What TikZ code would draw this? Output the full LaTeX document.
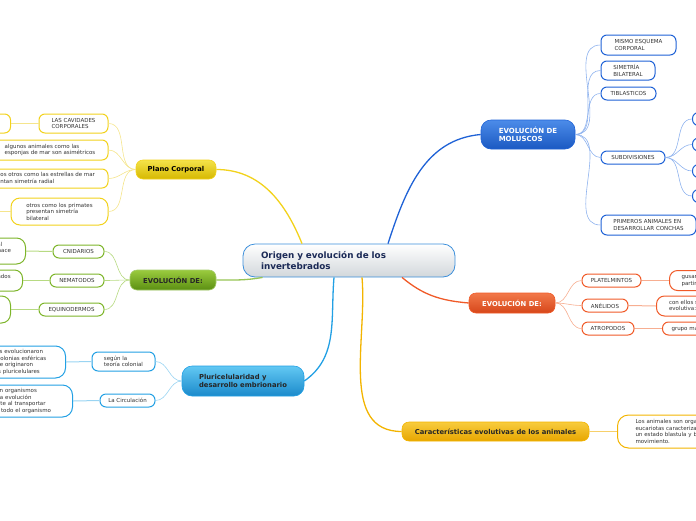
\documentclass[tikz,border=0pt]{standalone}
\usepackage{fontspec}
\setmainfont{DejaVu Sans}
\usetikzlibrary{positioning}

\definecolor{rootline}{HTML}{3C8FDB}
\definecolor{roottext}{HTML}{1B2A56}
\definecolor{rootlow}{HTML}{D2D7DB}
\definecolor{yelline}{HTML}{F2D21C}
\definecolor{yeltop}{HTML}{F4E34A}
\definecolor{yelbot}{HTML}{D6B800}
\definecolor{yeltwig}{HTML}{F5E58C}
\definecolor{grnline}{HTML}{7DB52A}
\definecolor{grntop}{HTML}{9ACB3E}
\definecolor{grnbot}{HTML}{5B8F12}
\definecolor{grntwig}{HTML}{B7DA82}
\definecolor{cyaline}{HTML}{22A0E4}
\definecolor{cyatop}{HTML}{62C8F3}
\definecolor{cyabot}{HTML}{1B8ACB}
\definecolor{cyatwig}{HTML}{9AD4F2}
\definecolor{bluline}{HTML}{1F62D6}
\definecolor{blutop}{HTML}{4C8CE9}
\definecolor{blubot}{HTML}{1B59C2}
\definecolor{blutwig}{HTML}{8EB2EE}
\definecolor{oraline}{HTML}{F05A28}
\definecolor{oratop}{HTML}{F2794A}
\definecolor{orabot}{HTML}{D6461A}
\definecolor{oratwig}{HTML}{F7AE91}
\definecolor{ambline}{HTML}{F3B400}
\definecolor{ambtop}{HTML}{F8CC3E}
\definecolor{ambbot}{HTML}{E7A600}
\definecolor{ambtwig}{HTML}{F7D06A}

\begin{document}
\begin{tikzpicture}[
    x=1pt, y=1pt,
    root/.style={draw=rootline, line width=0.8pt, rounded corners=12pt, top color=white, bottom color=rootlow,
        text=roottext, font=\fontsize{8.8}{10.5}\selectfont\bfseries, align=left, inner sep=0pt},
    topic/.style={rounded corners=7pt, line width=0.6pt, font=\fontsize{6.8}{8.3}\selectfont\bfseries,
        align=left, inner sep=0pt},
    leaf/.style={draw, fill=white, rounded corners=6pt, line width=1pt, text=black!80,
        font=\fontsize{5.5}{6.5}\selectfont, align=left, inner sep=0pt},
    branch/.style={line width=1.3pt},
    twig/.style={line width=0.6pt},
    link/.style={line width=1pt}
]
    \useasboundingbox (0,0) rectangle (696,-520);
    \clip (0,0) rectangle (696,-520);

    % centre
    \node[root, minimum width=212pt, minimum height=33pt, text width=176pt] (c) at (349,-260.5)
        {Origen y evolución de los\\invertebrados};

    % main topics
    \node[topic, draw=yelline, top color=yeltop, bottom color=yelbot, minimum width=80pt, minimum height=19pt] (plano) at (176,-169.5) {Plano Corporal};
    \node[topic, draw=grnline!70, top color=grntop, bottom color=grnbot, text=black!85, minimum width=86pt, minimum height=20pt] (evoA) at (173,-280) {EVOLUCIÓN DE:};
    \node[topic, draw=cyaline, top color=cyatop, bottom color=cyabot, text=black!85, rounded corners=10pt, minimum width=122pt, minimum height=30pt] (pluri) at (243,-381) {Pluricelularidad y\\desarrollo embrionario};
    \node[topic, draw=bluline, top color=blutop, bottom color=blubot, text=white, rounded corners=10pt, font=\fontsize{7}{8.3}\selectfont\bfseries, minimum width=94pt, minimum height=29pt] (mol) at (528,-134.5) {EVOLUCIÓN DE\\MOLUSCOS};
    \node[topic, draw=oraline, top color=oratop, bottom color=orabot, text=white, minimum width=86pt, minimum height=20pt] (evoB) at (512,-303) {EVOLUCIÓN DE:};
    \node[topic, draw=ambline, top color=ambtop, bottom color=ambbot, text=black!85, minimum width=187pt, minimum height=19pt] (carac) at (495.5,-431.5) {Características evolutivas de los animales};

    % Plano Corporal
    \node[leaf, draw=yelline, minimum width=69pt, minimum height=19pt] (cav) at (73.5,-123.5) {LAS CAVIDADES\\CORPORALES};
    \node[leaf, draw=yelline, anchor=east, minimum width=42pt, minimum height=19pt] (cavx) at (11,-123.5) {};
    \node[leaf, draw=yelline, minimum width=116pt, minimum height=20pt] (asim) at (50,-150) {algunos animales como las\\esponjas de mar son asimétricos};
    \node[leaf, draw=yelline, minimum width=136pt, minimum height=19pt] (radial) at (40,-178.5) {algunos otros como las estrellas de mar\\presentan simetría radial};
    \node[leaf, draw=yelline, rounded corners=9pt, minimum width=97pt, minimum height=27pt] (prim) at (59.5,-211.5) {otros como los primates\\presentan simetría\\bilateral};
    \coordinate (primx) at (-2,-211.5);

    % EVOLUCION DE (verde)
    \node[leaf, draw=grnline, minimum width=51pt, minimum height=13pt] (cni) at (78.5,-251.5) {CNIDARIOS};
    \node[leaf, draw=grnline, anchor=east, rounded corners=9pt, minimum width=114pt, minimum height=26pt, text width=90pt] (cnix) at (26,-251) {Animales con simetría radial\\con cavidad digestiva que hace\\de boca y ano};
    \node[leaf, draw=grnline, minimum width=54pt, minimum height=13pt] (nem) at (77,-280.5) {NEMATODOS};
    \node[leaf, draw=grnline, anchor=east, rounded corners=8pt, minimum width=66pt, minimum height=21pt, text width=60pt] (nemx) at (23,-280.5) {Gusanos redondos\\parásitos};
    \node[leaf, draw=grnline, minimum width=65pt, minimum height=13pt] (equ) at (71.5,-309.5) {EQUINODERMOS};
    \node[leaf, draw=grnline, anchor=east, rounded corners=9pt, minimum width=40pt, minimum height=27pt] (equx) at (11,-309.5) {};

    % Pluricelularidad
    \node[leaf, draw=cyaline, minimum width=63pt, minimum height=19pt] (teo) at (123.5,-361.5) {según la\\teoría colonial};
    \node[leaf, draw=cyaline, anchor=east, rounded corners=10pt, minimum width=116pt, minimum height=32pt, text width=82pt] (teox) at (66,-362) {Los animales evolucionaron\\a partir de colonias esféricas\\de las que se originaron\\los animales pluricelulares};
    \node[leaf, draw=cyaline, minimum width=55pt, minimum height=13pt] (circ) at (127.5,-400.5) {La Circulación};
    \node[leaf, draw=cyaline, anchor=east, rounded corners=10pt, minimum width=130pt, minimum height=32pt, text width=92pt] (circx) at (73,-401) {Se presenta en organismos\\complejos, una evolución\\muy importante al transportar\\sustancias en todo el organismo};

    % Moluscos
    \node[leaf, draw=bluline, minimum width=75pt, minimum height=20pt] (mis) at (638.5,-45) {MISMO ESQUEMA\\CORPORAL};
    \node[leaf, draw=bluline, minimum width=54pt, minimum height=19pt] (sim) at (628,-70.5) {SIMETRÍA\\BILATERAL};
    \node[leaf, draw=bluline, minimum width=55pt, minimum height=13pt] (tib) at (628.5,-93.5) {TIBLASTICOS};
    \node[leaf, draw=bluline, minimum width=64pt, minimum height=13pt] (sub) at (633,-157.5) {SUBDIVISIONES};
    \node[leaf, draw=bluline, anchor=west, minimum width=40pt, minimum height=13pt] (s1) at (692,-119) {};
    \node[leaf, draw=bluline, anchor=west, minimum width=40pt, minimum height=13pt] (s2) at (692,-144.5) {};
    \node[leaf, draw=bluline, anchor=west, minimum width=40pt, minimum height=13pt] (s3) at (692,-171) {};
    \node[leaf, draw=bluline, anchor=west, minimum width=40pt, minimum height=13pt] (s4) at (692,-196) {};
    \node[leaf, draw=bluline, minimum width=95pt, minimum height=20pt] (pri) at (648.5,-225) {PRIMEROS ANIMALES EN\\DESARROLLAR CONCHAS};

    % EVOLUCION DE (naranja)
    \node[leaf, draw=oraline, minimum width=59pt, minimum height=13pt] (pla) at (611.5,-280.5) {PLATELMINTOS};
    \node[leaf, draw=oraline, anchor=west, rounded corners=8pt, minimum width=104pt, minimum height=20pt, text width=80pt] (plax) at (669,-280.5) {gusanos planos a\\partir de los cuales};
    \node[leaf, draw=oraline, minimum width=46pt, minimum height=13pt] (ane) at (605,-305.5) {ANÉLIDOS};
    \node[leaf, draw=oraline, anchor=west, rounded corners=8pt, minimum width=135pt, minimum height=20pt, text width=110pt] (anex) at (656,-306) {con ellos surge una novedad\\evolutiva: la segmentación};
    \node[leaf, draw=oraline, minimum width=52pt, minimum height=13pt] (atr) at (608,-328.5) {ATROPODOS};
    \node[leaf, draw=oraline, anchor=west, minimum width=98pt, minimum height=13pt, text width=80pt] (atrx) at (662,-328.5) {grupo más numeroso};

    % Caracteristicas
    \node[leaf, draw=ambline, anchor=west, rounded corners=11pt, minimum width=136pt, minimum height=33pt, text width=100pt] (carx) at (617,-431.5) {Los animales son organismos\\eucariotas caracterizados por\\un estado blastula y buen\\movimiento.};

    % main branches
    \draw[branch, yelline] (plano.east) to[out=0, in=112] ([xshift=-47pt]c.north);
    \draw[branch, grnline!80] (evoA.east) to[out=0, in=190] ([xshift=20pt]c.south west);
    \draw[branch, cyaline] ([xshift=-15pt]c.south) to[out=-95, in=35] (pluri.east);
    \draw[branch, bluline] ([xshift=39pt]c.north) to[out=72, in=185] (mol.west);
    \draw[branch, oraline] ([xshift=53pt]c.south) to[out=-40, in=175] (evoB.west);
    \draw[branch, ambline] ([xshift=13pt]c.south) to[out=-85, in=180] (carac.west);

    % twigs
    \foreach \n in {cav, asim, radial, prim}
        \draw[twig, yeltwig] (plano.west) to[out=180, in=0] (\n.east);
    \foreach \n in {cni, nem, equ}
        \draw[twig, grntwig] (evoA.west) to[out=180, in=0] (\n.east);
    \foreach \n in {teo, circ}
        \draw[twig, cyatwig] (pluri.west) to[out=180, in=0] (\n.east);
    \foreach \n in {mis, sim, tib, sub, pri}
        \draw[twig, blutwig] (mol.east) to[out=0, in=180] (\n.west);
    \foreach \n in {s1, s2, s3, s4}
        \draw[twig, blutwig] (sub.east) to[out=0, in=180] (\n.west);
    \foreach \n in {pla, ane, atr}
        \draw[twig, oratwig] (evoB.east) to[out=0, in=180] (\n.west);

    % links to next level
    \draw[link, yeltwig] (cav.west) -- (cavx.east);
    \draw[link, yeltwig] (prim.west) -- (primx);
    \draw[link, grntwig] (cni.west) -- (cnix.east);
    \draw[link, grntwig] (nem.west) -- (nemx.east);
    \draw[link, grntwig] (equ.west) -- (equx.east);
    \draw[link, cyatwig] (teo.west) -- (teox.east);
    \draw[link, cyatwig] (circ.west) -- (circx.east);
    \draw[link, oratwig] (pla.east) -- (plax.west);
    \draw[link, oratwig] (ane.east) -- (anex.west);
    \draw[link, oratwig] (atr.east) -- (atrx.west);
    \draw[link, ambtwig] (carac.east) -- (carx.west);
\end{tikzpicture}
\end{document}
